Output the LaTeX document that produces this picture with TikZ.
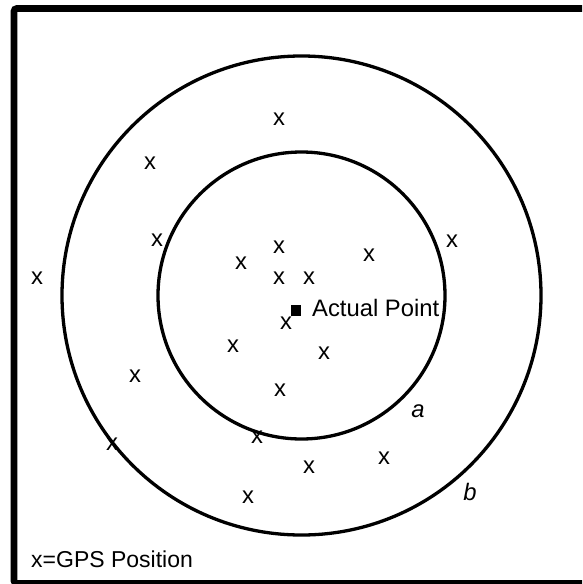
\documentclass[tikz,border=0pt]{standalone}
\usepackage{fontspec}
\setmainfont{Liberation Sans}
\begin{document}
\begin{tikzpicture}[x=1pt,y=-1pt,
  gps/.style={inner sep=0pt,font=\fontsize{23.8}{27}\selectfont},
  lbl/.style={inner sep=0pt,font=\fontsize{23.8}{27}\selectfont\itshape},
  ring/.style={draw=black,line width=3.3pt}]
\useasboundingbox (0,0) rectangle (582,584);
\clip (0,0) rectangle (582,584);
\fill[white] (0,0) rectangle (582,584);
% frame
\draw[line width=6.8pt,rounded corners=3pt] (14,8.5) rectangle (588,583.5);
% circles
\draw[ring] (301.5,295.5) circle[radius=239.5];
\draw[ring] (301.5,295.5) circle[radius=143.5];
% actual point
\fill (291,305) rectangle (301,316);
\node[gps,anchor=base west] (ap) at (312,316) {Actual Point};
% GPS positions
\node[gps] (x1) at (279,119) {x};
\node[gps] (x2) at (150,163) {x};
\node[gps] (x3) at (157,240) {x};
\node[gps] (x4) at (37,278) {x};
\node[gps] (x5) at (279,247) {x};
\node[gps] (x6) at (241,263) {x};
\node[gps] (x7) at (279,278) {x};
\node[gps] (x8) at (309,278) {x};
\node[gps] (x9) at (369,255) {x};
\node[gps] (x10) at (452,241) {x};
\node[gps] (x11) at (286,323) {x};
\node[gps] (x12) at (233,346) {x};
\node[gps] (x13) at (324,353) {x};
\node[gps] (x14) at (135,376) {x};
\node[gps] (x15) at (280,390) {x};
\node[gps] (x16) at (112,444) {x};
\node[gps] (x17) at (257,437) {x};
\node[gps] (x18) at (309,467) {x};
\node[gps] (x19) at (384,458) {x};
\node[gps] (x20) at (248,497) {x};
% labels
\node[lbl] (la) at (418,411) {a};
\node[lbl] (lb) at (470,492) {b};
\node[gps,anchor=base west,font=\fontsize{23}{27}\selectfont] (legend) at (31,567) {x=GPS Position};
\end{tikzpicture}
\end{document}
